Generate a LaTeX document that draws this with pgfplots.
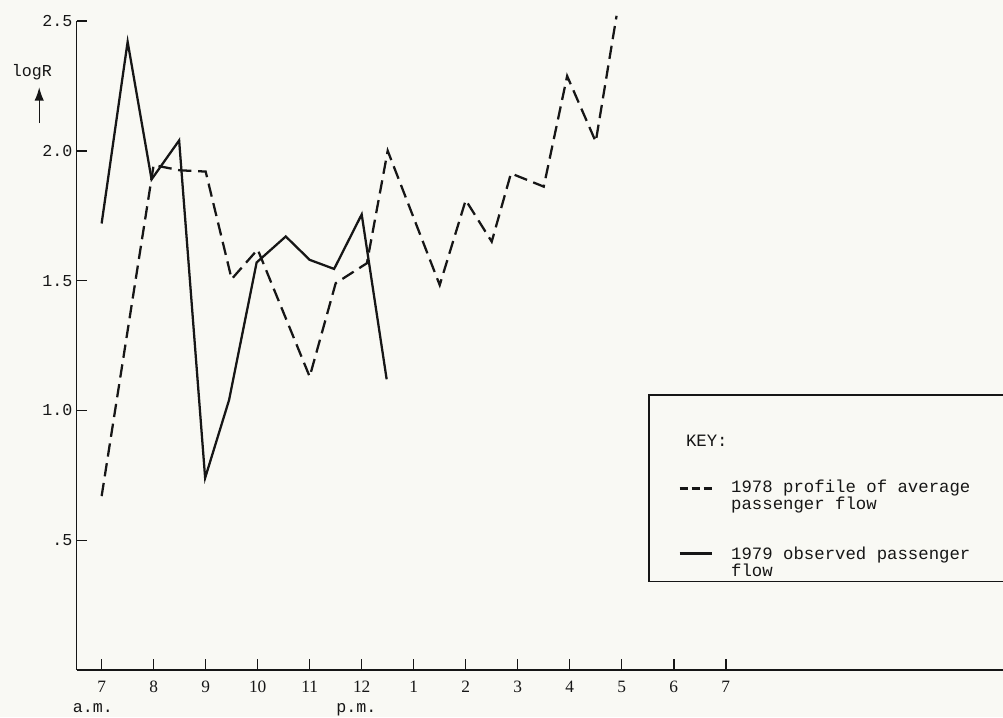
\documentclass[border=0pt]{standalone}
\usepackage{fontspec}
\setmainfont{Liberation Serif}
\newfontfamily\tw{Liberation Mono}
\usepackage{pgfplots}
\usepackage{pgfplotstable}
\pgfplotsset{compat=1.18}
\usetikzlibrary{arrows.meta}
\definecolor{bg}{RGB}{249,249,244}
\definecolor{ink}{RGB}{22,22,22}

% 1978 profile of average passenger flow (hours, 13 = 1 p.m.)
\pgfplotstableread{
x y
7.0 0.67
8.0 1.945
8.5 1.925
9.0 1.92
9.5 1.506
10.0 1.62
11.0 1.13
11.5 1.49
12.1 1.567
12.5 2.0
13.5 1.483
14.0 1.81
14.5 1.65
14.87 1.913
15.5 1.862
15.95 2.288
16.5 2.035
16.9 2.52
}\profile

% 1979 observed passenger flow
\pgfplotstableread{
x y
7.0 1.72
7.5 2.42
7.96 1.89
8.49 2.04
8.99 0.74
9.45 1.04
9.98 1.57
10.54 1.67
11.0 1.58
11.47 1.545
12.0 1.755
12.48 1.12
}\observed

\begin{document}
\begin{tikzpicture}
\path[fill=bg, use as bounding box] (-57.5pt,-35.25pt) rectangle (694.7pt,502.5pt);
\begin{axis}[
  at={(0pt,0pt)}, anchor=south west,
  scale only axis, width=694.7pt, height=486.75pt,
  xmin=6.52, xmax=24.33, ymin=0, ymax=2.5,
  axis x line*=bottom, axis y line*=left,
  axis line style={ink, line width=1.2pt},
  xtick={7,...,19}, xticklabels={7,8,9,10,11,12,1,2,3,4,5,6,7},
  ytick={0.5,1,1.5,2,2.5}, yticklabels={.5,1.0,1.5,2.0,2.5},
  xtick pos=bottom, ytick pos=left,
  tick align=inside, major tick length=8pt,
  tick style={ink, line width=1.1pt},
  xticklabel style={font=\fontsize{13}{13}\selectfont, yshift=-5pt, text=ink},
  yticklabel style={font=\fontsize{12.5}{12.5}\tw, inner sep=1pt, xshift=-2pt, text=ink},
  clip=false,
  legend style={
    at={(axis cs:17.506,1.063)}, anchor=north west,
    draw=ink, line width=1.2pt, fill=none,
    inner xsep=22pt, inner ysep=2pt,
    row sep=23.3pt, column sep=13.5pt,
    font=\fontsize{13}{13}\tw, text=ink,
    cells={anchor=base west},
    nodes={inner sep=0pt},
  },
]
\addlegendimage{empty legend}
\addlegendentry{\hspace*{-37.5pt}\rule{0pt}{37pt}KEY:}

\addplot[ink, line width=1.7pt, dash pattern=on 10pt off 5pt,
  legend image code/.code={\draw[ink,line width=1.7pt,dash pattern=on 6.5pt off 2.5pt] (0pt,16pt) -- (24pt,16pt);}]
  table {\profile};
\addlegendentry{\parbox[b]{240pt}{1978 profile of average\\passenger flow}}

\addplot[ink, line width=1.7pt,
  legend image code/.code={\draw[ink,line width=2.2pt] (0pt,17.5pt) -- (24pt,17.5pt);}]
  table {\observed};
\addlegendentry{\parbox[b]{240pt}{\rule{0pt}{12.5pt}1979 observed passenger\\flow}}

\node[font=\fontsize{12.5}{12.5}\tw, text=ink, anchor=base] at (axis cs:6.833,-0.162) {a.m.};
\node[font=\fontsize{12.5}{12.5}\tw, text=ink, anchor=base] at (axis cs:11.9,-0.162) {p.m.};
\node[font=\fontsize{12.5}{12.5}\tw, text=ink, anchor=base] at (axis cs:5.66,2.288) {logR};
\draw[ink, line width=1pt, -{Latex[length=10pt,width=7pt]}] (axis cs:5.80,2.107) -- (axis cs:5.80,2.245);
\end{axis}
\end{tikzpicture}
\end{document}
